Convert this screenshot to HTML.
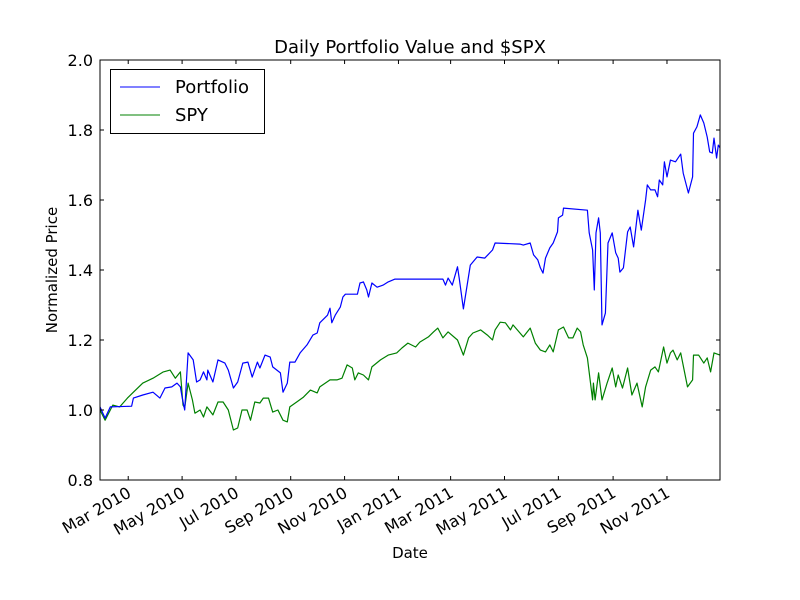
<!DOCTYPE html>
<html><head><meta charset="utf-8"><style>
html,body{margin:0;padding:0;background:#fff;}
svg{display:block;font-family:"DejaVu Sans","Liberation Sans",sans-serif;}
</style></head><body>
<svg id="chart" width="800" height="600" viewBox="0 0 800 600">
<rect x="0" y="0" width="800" height="600" fill="#fff"/>
<text x="410" y="53" font-size="18" text-anchor="middle">Daily Portfolio Value and $SPX</text>
<text x="57" y="270" font-size="15" text-anchor="middle" transform="rotate(-90 57 270)">Normalized Price</text>
<text x="410" y="558" font-size="15" text-anchor="middle">Date</text>
<g id="plot"></g>
<rect x="100" y="60" width="620" height="420" fill="none" stroke="#000" stroke-width="1"/>
<g>
<rect x="110.5" y="69.5" width="154" height="64" fill="#fff" stroke="#000" stroke-width="1"/>
<line x1="120" y1="87" x2="160" y2="87" stroke="#0000ff" stroke-width="1"/>
<text x="175" y="93" font-size="18">Portfolio</text>
<line x1="120" y1="115" x2="160" y2="115" stroke="#008000" stroke-width="1"/>
<text x="175" y="121" font-size="18">SPY</text>
</g>
</svg>
<script>
// day offsets (from late Jan 2010, domain 0..725) and normalized values
const portfolioDays = [0,6,12,37,39,50,62,70,76,84,90,94,96,99,103,109,113,117,121,125,126,132,138,146,150,156,161,167,173,178,184,187,193,199,202,211,214,219,222,228,234,242,249,254,257,266,269,271,275,281,284,287,301,304,308,312,314,318,324,331,337,345,401,404,407,412,418,420,425,433,441,450,459,462,491,495,503,507,512,515,518,521,526,530,535,536,541,542,570,572,576,578,580,583,585,587,591,594,599,603,606,608,612,617,620,624,629,633,638,640,644,649,652,654,658,660,663,667,673,679,682,688,693,694,698,702,706,710,713,716,718,721,723,725];
const portfolioValues = [1.009,0.977,1.009,1.011,1.034,1.043,1.051,1.034,1.063,1.066,1.077,1.066,1.037,1.0,1.163,1.143,1.08,1.086,1.109,1.086,1.114,1.08,1.143,1.134,1.114,1.063,1.08,1.134,1.137,1.094,1.137,1.12,1.157,1.151,1.123,1.106,1.051,1.077,1.137,1.137,1.163,1.186,1.214,1.22,1.249,1.271,1.291,1.249,1.271,1.294,1.323,1.331,1.331,1.363,1.366,1.343,1.323,1.363,1.351,1.357,1.366,1.374,1.374,1.357,1.377,1.357,1.409,1.377,1.289,1.414,1.437,1.434,1.457,1.477,1.474,1.471,1.477,1.443,1.429,1.406,1.391,1.434,1.463,1.477,1.509,1.549,1.557,1.577,1.571,1.506,1.457,1.343,1.506,1.549,1.506,1.243,1.277,1.477,1.506,1.449,1.434,1.394,1.406,1.509,1.523,1.466,1.571,1.514,1.6,1.643,1.629,1.629,1.609,1.657,1.643,1.709,1.666,1.714,1.709,1.731,1.677,1.62,1.666,1.791,1.809,1.843,1.82,1.78,1.737,1.734,1.777,1.72,1.757,1.749];
const spyDays = [0,6,15,23,32,39,50,62,74,82,88,94,97,99,103,108,111,117,121,125,132,138,144,150,156,161,166,172,176,181,187,191,197,202,208,214,219,222,230,238,246,254,257,269,277,283,289,295,298,302,308,314,318,328,337,347,353,360,369,374,384,390,395,401,407,418,425,431,436,445,453,459,462,468,474,480,483,488,495,503,509,515,521,526,530,536,542,548,553,558,562,565,570,576,577,579,583,587,593,599,603,606,611,617,622,628,634,638,644,649,653,659,663,667,670,675,679,687,693,694,700,706,710,714,718,725];
const spyValues = [1.0,0.971,1.014,1.009,1.034,1.051,1.077,1.091,1.109,1.114,1.091,1.109,1.014,1.006,1.077,1.029,0.991,1.0,0.98,1.009,0.986,1.023,1.023,1.0,0.943,0.949,1.0,1.0,0.971,1.023,1.02,1.034,1.034,0.994,1.0,0.971,0.966,1.009,1.023,1.037,1.057,1.049,1.066,1.086,1.086,1.091,1.129,1.12,1.086,1.106,1.1,1.086,1.123,1.143,1.157,1.163,1.177,1.191,1.18,1.194,1.209,1.223,1.234,1.206,1.223,1.2,1.157,1.206,1.22,1.229,1.214,1.2,1.229,1.251,1.249,1.229,1.243,1.229,1.209,1.234,1.191,1.171,1.166,1.186,1.166,1.229,1.237,1.206,1.206,1.234,1.223,1.186,1.149,1.029,1.077,1.029,1.106,1.029,1.077,1.12,1.066,1.1,1.063,1.12,1.043,1.077,1.009,1.066,1.114,1.123,1.109,1.18,1.134,1.163,1.171,1.143,1.163,1.066,1.086,1.157,1.157,1.134,1.149,1.109,1.163,1.157];
const xTickDays = [33,96,159,223,286,349,410,473,536,600,663];
const xTickLabels = ["Mar 2010","May 2010","Jul 2010","Sep 2010","Nov 2010","Jan 2011","Mar 2011","May 2011","Jul 2011","Sep 2011","Nov 2011"];
const yTicks = [0.8,1.0,1.2,1.4,1.6,1.8,2.0];
const yTickLabels = ["0.8","1.0","1.2","1.4","1.6","1.8","2.0"];

const L=100,R=720,T=60,B=480,XMAX=725,YMIN=0.8,YMAX=2.0;
const xs=d=>L+(d/XMAX)*(R-L);
const ys=v=>B-(v-YMIN)/(YMAX-YMIN)*(B-T);
const NS="http://www.w3.org/2000/svg";
const plot=document.getElementById('plot');
function mk(tag,attrs){const e=document.createElementNS(NS,tag);for(const k in attrs)e.setAttribute(k,attrs[k]);return e;}

function series(days,vals,color,name){
  const pts=days.map((d,i)=>xs(d).toFixed(1)+','+ys(vals[i]).toFixed(1)).join(' ');
  const p=mk('polyline',{points:pts,fill:'none',stroke:color,'stroke-width':1.2,'stroke-linejoin':'round'});
  
  
  plot.appendChild(p);
}
series(spyDays,spyValues,'#008000','spy-line');
series(portfolioDays,portfolioValues,'#0000ff','portfolio-line');

yTicks.forEach((v,i)=>{
  const y=ys(v);
  const t1=mk('line',{x1:L,y1:y,x2:L+4,y2:y,stroke:'#000'});
  
  
  plot.appendChild(t1);
  const t2=mk('line',{x1:R-4,y1:y,x2:R,y2:y,stroke:'#000'});
  
  
  plot.appendChild(t2);
  const tx=mk('text',{x:93,y:y+6,'font-size':16,'text-anchor':'end'});
  tx.textContent=yTickLabels[i];
  
  
  plot.appendChild(tx);
});
xTickDays.forEach((d,i)=>{
  const x=xs(d);
  const t1=mk('line',{x1:x,y1:B,x2:x,y2:B-4,stroke:'#000'});
  
  
  plot.appendChild(t1);
  const t2=mk('line',{x1:x,y1:T,x2:x,y2:T+4,stroke:'#000'});
  
  
  plot.appendChild(t2);
  const tx=mk('text',{x:x+4,y:B+16,'font-size':16,'text-anchor':'end',transform:'rotate(-30 '+(x+4)+' '+(B+16)+')'});
  tx.textContent=xTickLabels[i];
  
  
  plot.appendChild(tx);
});
</script>
</body></html>
